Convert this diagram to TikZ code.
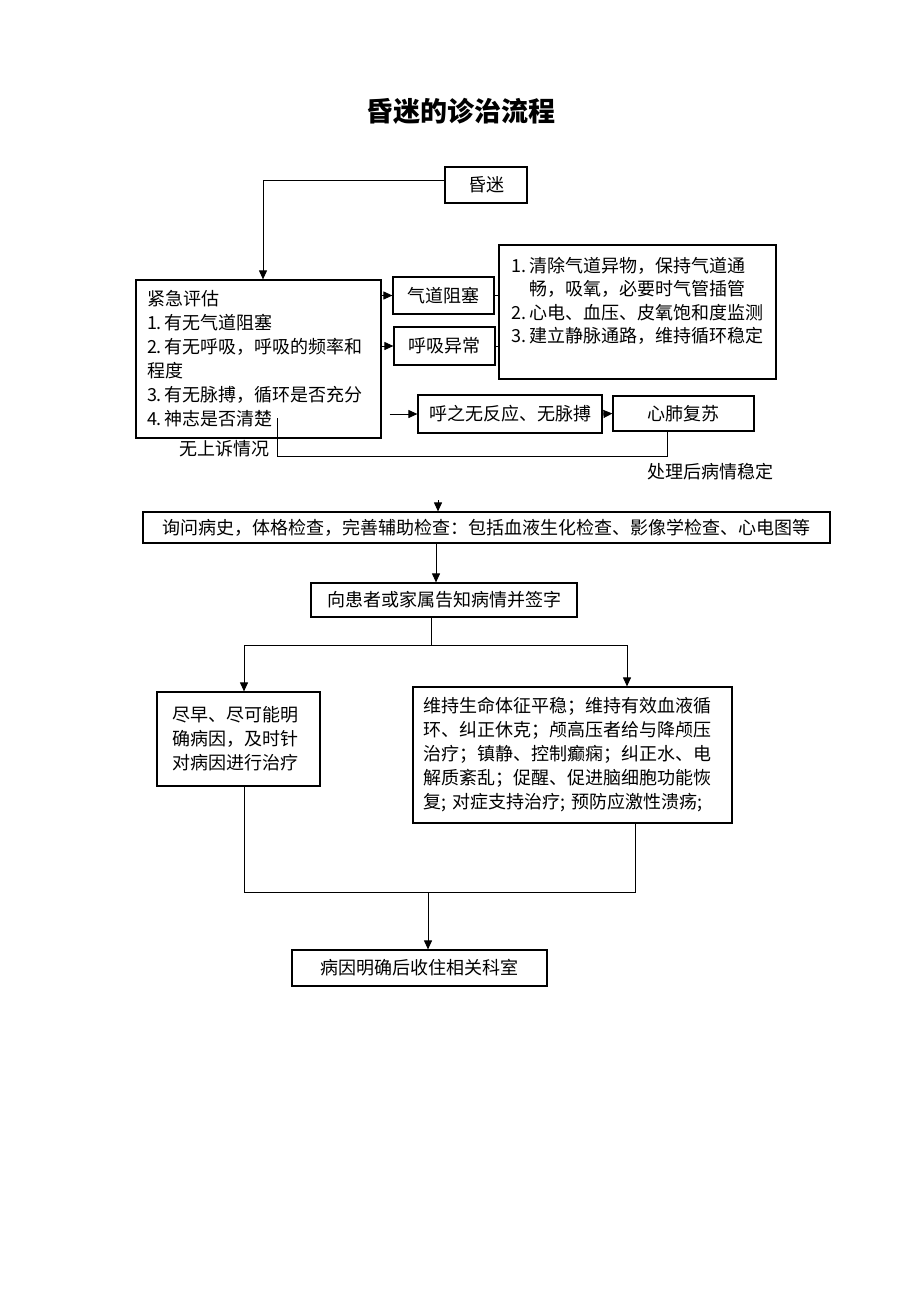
\documentclass[tikz,border=0pt]{standalone}
\usepackage{fontspec}
\setmainfont{Noto Sans CJK SC}
\usetikzlibrary{calc,arrows.meta}
\newcommand\wenzi{\fontsize{18}{24}\selectfont}

\begin{document}
\begin{tikzpicture}
	[   x=1pt,y=-1pt,
		kuang/.style={draw=black,line width=1.2pt,fill=white,inner sep=0pt,font=\wenzi},
	]
	\tikzset{normal arrow/.style={draw,line width=1pt,-{Triangle[length=9pt,width=8pt]}}}
	\useasboundingbox (0,0) rectangle (920,1302);
	\node[font=\fontsize{27}{30}\selectfont\bfseries] (biaoti) at (461,111) {昏迷的诊治流程};
	
	\node[kuang,minimum width=82,minimum height=36] (hunmi) at (486,185) {昏迷};
	
	\node[kuang,minimum width=245,minimum height=158,text width=223,align=left] (pinggu) at (258.5,359)
	{紧急评估\\1.\,有无气道阻塞\\2.\,有无呼吸，呼吸的频率和\\程度\\3.\,有无脉搏，循环是否充分\\4.\,神志是否清楚};
	
	\node[kuang,minimum width=101,minimum height=37] (qidao) at (443.5,295.5) {气道阻塞};
	\node[kuang,minimum width=101,minimum height=38] (huxi) at (444.5,346) {呼吸异常};
	
	\node[kuang,minimum width=277,minimum height=134] (chuli) at (637.5,312) {};
	\node[anchor=north west,inner sep=0pt,align=left,font=\fontsize{18}{23.5}\selectfont] (chulitext) at (511,257)
	{1.\,清除气道异物，保持气道通\\\phantom{1.\,}畅，吸氧，必要时气管插管\\2.\,心电、血压、皮氧饱和度监测\\3.\,建立静脉通路，维持循环稳定};
	
	\node[kuang,minimum width=184,minimum height=38] (wufanying) at (510,414) {呼之无反应、无脉搏};
	\node[kuang,minimum width=141,minimum height=35] (fusu) at (683.5,413.5) {心肺复苏};
	
	\node[font=\wenzi] (wushang) at (224,449) {无上诉情况};
	\node[font=\wenzi] (wending) at (710,472) {处理后病情稳定};
	
	\node[kuang,minimum width=687,minimum height=31] (xunwen) at (486.5,527.5)
	{询问病史，体格检查，完善辅助检查：包括血液生化检查、影像学检查、心电图等};
	\node[kuang,minimum width=266,minimum height=34] (gaozhi) at (444,600) {向患者或家属告知病情并签字};
	
	\node[kuang,minimum width=163,minimum height=94,text width=133,align=left] (jinzao) at (238.5,739)
	{尽早、尽可能明\\确病因，及时针\\对病因进行治疗};
	\node[kuang,minimum width=319,minimum height=136,text width=298,align=left] (weichi) at (572.5,755)
	{维持生命体征平稳；维持有效血液循\\环、纠正休克；颅高压者给与降颅压\\治疗；镇静、控制癫痫；纠正水、电\\解质紊乱；促醒、促进脑细胞功能恢\\复; 对症支持治疗; 预防应激性溃疡;};
	
	\node[kuang,minimum width=255,minimum height=36] (bingyin) at (419.5,968) {病因明确后收住相关科室};
	
	\coordinate (huitou) at (667,456);
	\coordinate (wuqi) at (277,418);
	\coordinate (ru) at (438,500);
	\coordinate (fen) at (431,645);
	\coordinate (he) at (428,892);
	
	\path[normal arrow] ([yshift=5pt]hunmi.west) -| ([xshift=4.5pt]pinggu.north);
	
	\foreach \n in {qidao,huxi}
	{
		\path[normal arrow] (pinggu.east |- \n.west) -- (\n.west);
		\draw[line width=1pt] (\n.east) -- (\n.east -| chuli.west);
	}
	
	\path[normal arrow] ([xshift=8pt]pinggu.east |- wufanying.west) -- (wufanying.west);
	\path[normal arrow] (wufanying.east) -- (fusu.west);
	\draw[line width=1pt] (fusu.south -| huitou) -- (huitou) -| (wuqi);
	
	\path[normal arrow] (ru) -- (ru |- xunwen.north);
	\path[normal arrow] ([xshift=-50.5pt]xunwen.south) -- ([xshift=-8pt]gaozhi.north);
	
	\draw[line width=1pt] (gaozhi.south -| fen) -- (fen);
	\path[normal arrow] (fen) -| ([xshift=5.5pt]jinzao.north);
	\path[normal arrow] (fen) -| ([xshift=54.5pt]weichi.north);
	
	\draw[line width=1pt] ([xshift=5.5pt]jinzao.south) |- (he) -| ([xshift=62.5pt]weichi.south);
	\path[normal arrow] (he) -- (he |- bingyin.north);

\end{tikzpicture}
\end{document}
